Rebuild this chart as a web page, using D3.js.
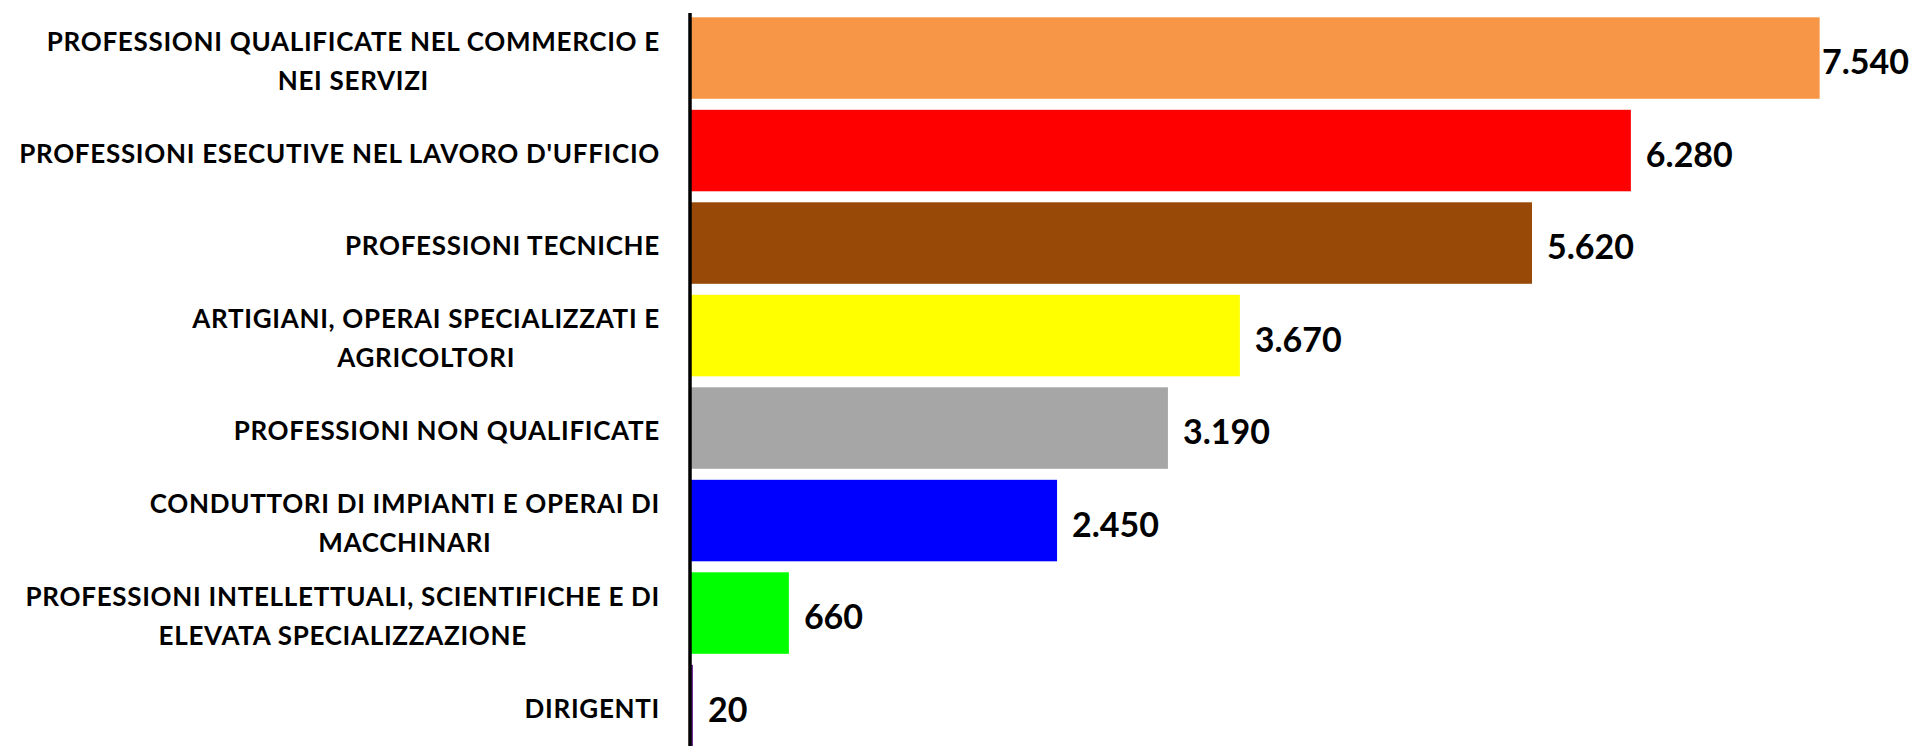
<!DOCTYPE html>
<html>
<head>
<meta charset="utf-8">
<script src="https://cdn.jsdelivr.net/npm/d3@7"></script>
<style>
  html, body { margin: 0; padding: 0; background: #fff; }
  svg text { font-family: Lato, "Open Sans", sans-serif; font-weight: 700; fill: #000; }
</style>
</head>
<body>
<div id="plot"></div>
<script>
// categories (with the line breaks used in the wrapped labels)
var categories = [
  "PROFESSIONI QUALIFICATE NEL COMMERCIO E\nNEI SERVIZI",
  "PROFESSIONI ESECUTIVE NEL LAVORO D'UFFICIO",
  "PROFESSIONI TECNICHE",
  "ARTIGIANI, OPERAI SPECIALIZZATI E\nAGRICOLTORI",
  "PROFESSIONI NON QUALIFICATE",
  "CONDUTTORI DI IMPIANTI E OPERAI DI\nMACCHINARI",
  "PROFESSIONI INTELLETTUALI, SCIENTIFICHE E DI\nELEVATA SPECIALIZZAZIONE",
  "DIRIGENTI"
];
var values = [7540, 6280, 5620, 3670, 3190, 2450, 660, 20];
var barColors = ["#F79646", "#FF0000", "#984807", "#FFFF00", "#A6A6A6", "#0000FF", "#00FF00", "#7030A0"];

var width = 1917, height = 746;
var axisX = 690, labelRight = 660;

var svg = d3.select("#plot").append("svg")
    .attr("width", width)
    .attr("height", height);

var x = d3.scaleLinear().domain([0, 8000]).range([axisX, axisX + 8000 * 0.14982]);
var y = d3.scaleBand().domain(d3.range(categories.length))
    .range([11.8, 11.8 + 92.5 * categories.length])
    .paddingInner(0.119).paddingOuter(0.0595);

// bars
svg.selectAll("rect.bar").data(values).enter().append("rect")
    .attr("class", "bar")
    .attr("x", x(0))
    .attr("y", function (d, i) { return y(i); })
    .attr("width", function (d) { return x(d) - x(0); })
    .attr("height", y.bandwidth())
    .attr("fill", function (d, i) { return barColors[i]; });

// vertical axis line
svg.append("line")
    .attr("x1", axisX).attr("x2", axisX)
    .attr("y1", 13).attr("y2", height)
    .attr("stroke", "#000").attr("stroke-width", 3.5);

// category labels, wrapped lines centred inside a right aligned block
var catSize = 26, linePitch = 39, capC = 0.7165;
categories.forEach(function (c, i) {
  var lines = c.split("\n");
  var mid = y(i) + y.bandwidth() / 2 + 3;
  var g = svg.append("g");
  var texts = lines.map(function (ln, j) {
    var off = (j - (lines.length - 1) / 2) * linePitch;
    return g.append("text")
      .attr("font-size", catSize + "px")
      .attr("letter-spacing", "0.7px")
      .attr("y", mid + off + catSize * capC / 2)
      .attr("text-anchor", "middle")
      .text(ln);
  });
  var maxW = d3.max(texts, function (t) { return t.node().getComputedTextLength(); });
  texts.forEach(function (t) { t.attr("x", labelRight - maxW / 2); });
});

// value labels
var valSize = 34;
var fmt = d3.formatLocale({ decimal: ",", thousands: ".", grouping: [3], currency: ["€", ""] }).format(",d");
svg.selectAll("text.val").data(values).enter().append("text")
    .attr("class", "val")
    .attr("font-size", valSize + "px")
    .attr("y", function (d, i) { return y(i) + y.bandwidth() / 2 + 4 + valSize * capC / 2; })
    .text(function (d) { return fmt(d); })
    .attr("x", function (d) {
      var w = this.getComputedTextLength();
      return Math.min(x(d) + 15, width - 8 - w);
    });
</script>
</body>
</html>
